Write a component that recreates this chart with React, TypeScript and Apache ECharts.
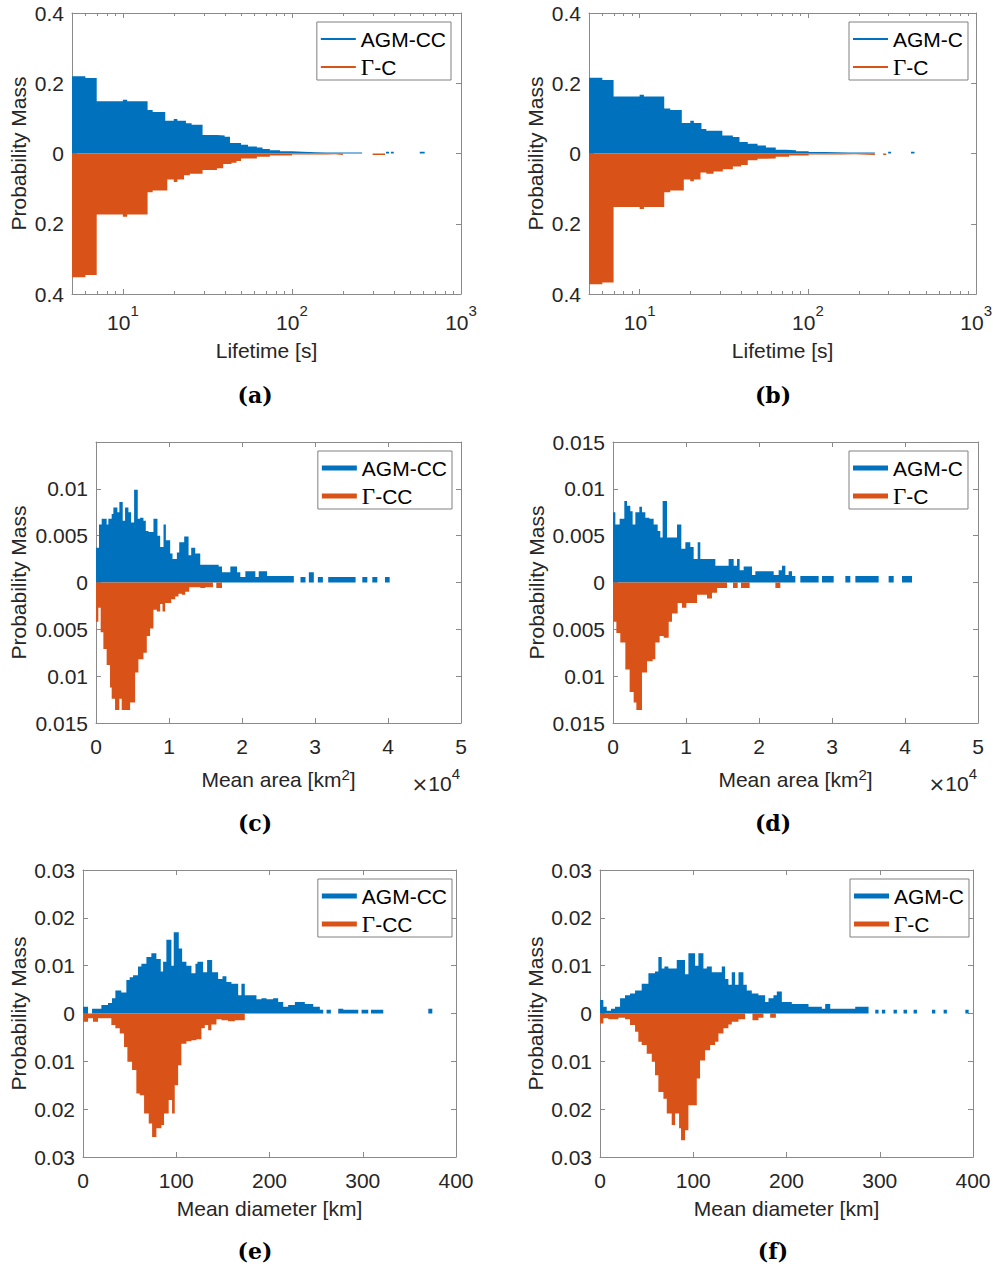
import React, { useEffect, useRef } from 'react';
import * as echarts from 'echarts';

// ---------------- data (bin left edges X, probability mass P from that edge to the next) ----------------
const lifetimeMinorTicks = [6, 7, 8, 9, 20, 30, 40, 50, 60, 70, 80, 90, 200, 300, 400, 500, 600, 700, 800, 900];

// (a) Lifetime, AGM-CC / Γ-C
const aAgmX = [5, 6, 7, 10, 10.6, 14, 15, 17.8, 20, 21, 23.6, 25.5, 29.6, 36, 40, 43, 50, 55, 62, 67, 74, 85, 100, 116, 140, 160, 200, 230, 260, 360, 375, 385, 400, 570, 610];
const aAgmP = [0.220, 0.215, 0.149, 0.153, 0.149, 0.124, 0.118, 0.093, 0.098, 0.093, 0.086, 0.082, 0.053, 0.051, 0.048, 0.030, 0.025, 0.020, 0.017, 0.013, 0.009, 0.0065, 0.0047, 0.0035, 0.003, 0.003, 0.0025, 0.003, 0, 0.005, 0, 0.005, 0, 0.005, 0];
const aGamX = [5, 6, 7, 10, 10.6, 14, 15, 18.3, 20, 21, 23, 24.9, 29.6, 36, 39.2, 43.9, 47, 50, 62, 74, 100, 160, 180, 200, 300, 356];
const aGamP = [0.352, 0.346, 0.174, 0.180, 0.174, 0.110, 0.105, 0.074, 0.081, 0.074, 0.062, 0.058, 0.047, 0.042, 0.030, 0.026, 0.021, 0.014, 0.009, 0.006, 0.003, 0.002, 0.004, 0, 0.004, 0];

// (b) Lifetime, AGM-C / Γ-C
const bAgmX = [5, 6, 7, 10, 10.6, 14, 15.2, 17.8, 20, 21, 23.3, 24.9, 31, 35.8, 39.2, 43.9, 50.2, 56.3, 64.4, 74, 85, 101, 127, 175, 250, 300, 312, 410, 430];
const bAgmP = [0.216, 0.209, 0.162, 0.167, 0.162, 0.128, 0.124, 0.087, 0.093, 0.087, 0.070, 0.065, 0.051, 0.047, 0.033, 0.028, 0.023, 0.017, 0.011, 0.009, 0.0065, 0.004, 0.003, 0.003, 0, 0.005, 0, 0.005, 0];
const bGamX = [5, 6, 7, 10, 10.6, 14, 15.2, 18.3, 20, 21, 23, 24.9, 27.5, 31.2, 35.8, 40.1, 43.9, 50.2, 56.3, 64.4, 77.3, 101, 159, 190, 250, 280, 292];
const bGamP = [0.372, 0.367, 0.152, 0.158, 0.152, 0.110, 0.105, 0.074, 0.079, 0.074, 0.054, 0.058, 0.051, 0.045, 0.037, 0.033, 0.019, 0.015, 0.014, 0.009, 0.006, 0.003, 0.002, 0.004, 0, 0.004, 0];

// (c) Mean area, AGM-CC / Γ-CC
const cAgmX = [0, 410, 780, 1460, 1690, 2150, 2380, 2930, 3200, 3660, 3980, 4440, 4810, 5220, 5720, 6040, 6500, 6820, 7190, 7870, 8420, 8790, 9250, 9570, 10160, 10480, 11080, 11400, 12080, 12680, 13040, 13590, 14280, 16800, 17260, 18400, 19320, 19770, 20460, 21830, 22290, 23430, 27100, 28010, 28700, 29160, 29840, 30390, 31080, 31810, 35560, 36480, 37170, 37850, 38540, 39590, 40230];
const cAgmP = [0.0037, 0.0062, 0.0068, 0.0062, 0.0068, 0.0073, 0.0080, 0.0075, 0.0086, 0.0066, 0.0080, 0.0075, 0.0064, 0.0099, 0.0068, 0.0069, 0.0066, 0.0055, 0.0054, 0.0068, 0.0050, 0.0038, 0.0062, 0.0045, 0.0031, 0.0025, 0.0032, 0.0043, 0.0049, 0.0029, 0.0037, 0.0031, 0.0019, 0.0017, 0.0011, 0.0017, 0.0011, 0.0006, 0.0012, 0.0006, 0.0012, 0.0007, 0, 0.0006, 0, 0.0011, 0, 0.0006, 0, 0.0006, 0, 0.0006, 0, 0.0006, 0, 0.0006, 0];
const cGamX = [0, 320, 640, 1010, 1460, 1920, 2150, 2610, 3200, 3520, 4670, 5360, 5810, 6500, 6960, 7410, 7870, 8330, 8790, 9110, 9470, 10300, 10850, 11300, 11760, 12220, 12770, 14280, 14970, 16020, 16480, 17260];
const cGamP = [0.0042, 0.0027, 0.0053, 0.0071, 0.0088, 0.0112, 0.0124, 0.0136, 0.0124, 0.0136, 0.0128, 0.0096, 0.0082, 0.0075, 0.0057, 0.0049, 0.0029, 0.0031, 0.0023, 0.0031, 0.0022, 0.0018, 0.0015, 0.0012, 0.0013, 0.0010, 0.0005, 0.0006, 0.0005, 0, 0.0006, 0];

// (d) Mean area, AGM-C / Γ-C
const dAgmX = [0, 320, 910, 1550, 1920, 2370, 2690, 3060, 3610, 3970, 4430, 4980, 5570, 6120, 6480, 6800, 7400, 8770, 9360, 9910, 10590, 11050, 11600, 11960, 14020, 15840, 16530, 16990, 17350, 17900, 19040, 19500, 22010, 22690, 23150, 23610, 24060, 24520, 24980, 25660, 28170, 28630, 30230, 31830, 32510, 33200, 36390, 37760, 38450, 39590, 40960];
const dAgmP = [0.0075, 0.0062, 0.0068, 0.0087, 0.0082, 0.0076, 0.0062, 0.0075, 0.0081, 0.0075, 0.0069, 0.0068, 0.0062, 0.0055, 0.0048, 0.0087, 0.0048, 0.0062, 0.0036, 0.0043, 0.0038, 0.0025, 0.0043, 0.0025, 0.0018, 0.0025, 0.0018, 0.0025, 0.0013, 0.0017, 0.0008, 0.0012, 0.0008, 0.0013, 0.0018, 0.0008, 0.0012, 0.0007, 0, 0.0007, 0, 0.0007, 0, 0.0007, 0, 0.0007, 0, 0.0007, 0, 0.0007, 0];
const dGamX = [0, 460, 1000, 1690, 2280, 2830, 3200, 3970, 4660, 5430, 5800, 6390, 6940, 7630, 8080, 8860, 9450, 10050, 11510, 12880, 13560, 14250, 15620, 16440, 17080, 17530, 18720, 22240, 22920];
const dGamP = [0.0042, 0.0054, 0.0064, 0.0093, 0.0117, 0.0128, 0.0136, 0.0096, 0.0084, 0.0082, 0.0064, 0.0057, 0.0059, 0.0042, 0.0033, 0.0022, 0.0027, 0.0022, 0.0013, 0.0017, 0.0011, 0.0006, 0, 0.0006, 0, 0.0006, 0, 0.0006, 0];

// (e) Mean diameter, AGM-CC / Γ-CC
const eAgmX = [0, 5.4, 9.7, 19.7, 26.8, 31.1, 34.7, 41.1, 46.5, 50.1, 53.7, 59.0, 62.6, 68.0, 73.3, 78.7, 83.4, 85.9, 89.4, 94.8, 97.3, 102.7, 106.3, 110.9, 116.3, 120.6, 122.7, 128.8, 133.1, 138.5, 144.9, 149.6, 153.8, 159.2, 166.4, 169.9, 173.5, 186.0, 191.4, 196.8, 203.9, 209.3, 214.7, 220.0, 227.2, 237.9, 246.9, 254.0, 257.6, 261.2, 265.8, 273.7, 279.1, 295.2, 298.7, 305.9, 308.8, 322.0, 370.3, 374.6];
const eAgmP = [0.0014, 0, 0.0010, 0.0018, 0.0022, 0.0032, 0.0048, 0.0044, 0.0070, 0.0076, 0.0080, 0.0098, 0.0104, 0.0118, 0.0126, 0.0114, 0.0088, 0.0108, 0.0154, 0.0100, 0.0170, 0.0136, 0.0108, 0.0100, 0.0084, 0.0104, 0.0108, 0.0086, 0.0112, 0.0086, 0.0072, 0.0078, 0.0066, 0.0062, 0.0038, 0.0062, 0.0038, 0.0030, 0.0032, 0.0030, 0.0032, 0.0024, 0.0014, 0.0018, 0.0024, 0.0020, 0.0014, 0.0008, 0, 0.0008, 0, 0.0010, 0.0008, 0, 0.0008, 0, 0.0008, 0, 0.0010, 0];
const eGamX = [0, 5.4, 10.7, 16.1, 30.4, 34.7, 39.4, 44.0, 47.6, 52.6, 57.2, 60.8, 65.5, 70.5, 74.1, 78.7, 84.1, 86.9, 91.9, 95.5, 98.4, 102.0, 105.5, 110.9, 116.3, 121.6, 127.0, 130.6, 134.2, 137.7, 143.1, 148.5, 155.6, 162.8, 173.5];
const eGamP = [0.0017, 0.0010, 0.0017, 0.0010, 0.0024, 0.0031, 0.0042, 0.0070, 0.0101, 0.0118, 0.0167, 0.0171, 0.0209, 0.0230, 0.0258, 0.0240, 0.0233, 0.0209, 0.0181, 0.0209, 0.0150, 0.0108, 0.0063, 0.0058, 0.0056, 0.0054, 0.0031, 0.0024, 0.0035, 0.0023, 0.0012, 0.0014, 0.0016, 0.0014, 0];

// (f) Mean diameter, AGM-C / Γ-C
const fAgmX = [0, 3.6, 7.2, 11.8, 16.1, 21.5, 26.8, 32.2, 37.6, 44.7, 51.9, 59.0, 62.6, 66.2, 69.1, 73.3, 82.3, 91.2, 94.8, 102.0, 105.5, 110.9, 114.5, 119.9, 130.6, 134.2, 137.7, 141.3, 144.9, 148.5, 153.8, 157.4, 162.8, 169.9, 177.1, 180.7, 186.0, 189.6, 195.0, 205.7, 223.6, 237.9, 241.5, 246.9, 273.7, 288.0, 295.2, 298.7, 302.3, 305.9, 314.8, 318.4, 325.5, 329.2, 336.3, 339.9, 356.0, 359.6, 368.5, 372.0, 391.8, 395.3];
const fAgmP = [0.0028, 0.0014, 0.0006, 0.0010, 0.0014, 0.0032, 0.0038, 0.0042, 0.0048, 0.0062, 0.0084, 0.0088, 0.0118, 0.0094, 0.0098, 0.0094, 0.0112, 0.0082, 0.0126, 0.0100, 0.0126, 0.0094, 0.0098, 0.0086, 0.0098, 0.0072, 0.0060, 0.0086, 0.0060, 0.0086, 0.0060, 0.0048, 0.0042, 0.0038, 0.0024, 0.0032, 0.0038, 0.0046, 0.0024, 0.0020, 0.0014, 0.0010, 0.0020, 0.0010, 0.0014, 0, 0.0008, 0, 0.0008, 0, 0.0008, 0, 0.0008, 0, 0.0008, 0, 0.0008, 0, 0.0008, 0, 0.0008, 0];
const fGamX = [0, 3.6, 8.9, 19.7, 26.8, 32.2, 37.6, 41.1, 44.7, 50.1, 55.5, 59.0, 62.6, 68.0, 71.6, 76.9, 80.5, 84.8, 86.9, 91.2, 94.8, 103.8, 107.3, 112.7, 118.1, 123.4, 127.0, 132.4, 137.7, 141.3, 148.5, 155.6, 163.5, 169.9, 175.3, 182.5, 188.6];
const fGamP = [0.0021, 0.0010, 0.0012, 0.0009, 0.0012, 0.0024, 0.0038, 0.0059, 0.0066, 0.0084, 0.0101, 0.0129, 0.0164, 0.0178, 0.0209, 0.0233, 0.0209, 0.0240, 0.0265, 0.0244, 0.0192, 0.0136, 0.0098, 0.0077, 0.0066, 0.0059, 0.0042, 0.0031, 0.0023, 0.0017, 0.0012, 0, 0.0014, 0.0009, 0, 0.0009, 0];

// ---------------- styling ----------------
const BLUE = '#0072BD';
const ORANGE = '#D95319';
const AXIS = '#8a8a8a';
const INK = '#262626';
const SANS = '"Liberation Sans", Arial, Helvetica, sans-serif';
const SERIF = '"Liberation Serif", "Times New Roman", serif';
const FS = 21;
const SUP = 15;

type Panel = {
  grid: { left: number; top: number; width: number; height: number };
  log: boolean;
  xMin: number;
  xMax: number;
  xInt: number;
  xDiv: number;
  xName: string;
  xNameGap: number;
  yLim: number;
  yInt: number;
  yNameGap: number;
  hideTopY: boolean;
  names: [string, string];
  agm: [number[], number[]];
  gam: [number[], number[]];
  legendRight: number;
  legendTop: number;
  thick: boolean;
  caption: string;
  capX: number;
  capY: number;
  sci: boolean;
};

const panels: Panel[] = [
  {
    grid: { left: 72, top: 13, width: 389, height: 281 }, log: true, xMin: 5, xMax: 1000, xInt: 0, xDiv: 1,
    xName: 'Lifetime [s]', xNameGap: 44, yLim: 0.4, yInt: 0.2, yNameGap: 42, hideTopY: false,
    names: ['AGM-CC', 'Γ-C'], agm: [aAgmX, aAgmP], gam: [aGamX, aGamP],
    legendRight: 544, legendTop: 22, thick: false, caption: '(a)', capX: 255, capY: 395, sci: false,
  },
  {
    grid: { left: 589, top: 13, width: 388, height: 281 }, log: true, xMin: 5, xMax: 1000, xInt: 0, xDiv: 1,
    xName: 'Lifetime [s]', xNameGap: 44, yLim: 0.4, yInt: 0.2, yNameGap: 41, hideTopY: false,
    names: ['AGM-C', 'Γ-C'], agm: [bAgmX, bAgmP], gam: [bGamX, bGamP],
    legendRight: 27, legendTop: 22, thick: false, caption: '(b)', capX: 773, capY: 395, sci: false,
  },
  {
    grid: { left: 96, top: 442, width: 365, height: 281 }, log: false, xMin: 0, xMax: 50000, xInt: 10000, xDiv: 10000,
    xName: 'Mean area [km{s|2}]', xNameGap: 44, yLim: 0.015, yInt: 0.005, yNameGap: 66, hideTopY: true,
    names: ['AGM-CC', 'Γ-CC'], agm: [cAgmX, cAgmP], gam: [cGamX, cGamP],
    legendRight: 543, legendTop: 451, thick: true, caption: '(c)', capX: 255, capY: 823, sci: true,
  },
  {
    grid: { left: 613, top: 442, width: 365, height: 281 }, log: false, xMin: 0, xMax: 50000, xInt: 10000, xDiv: 10000,
    xName: 'Mean area [km{s|2}]', xNameGap: 44, yLim: 0.015, yInt: 0.005, yNameGap: 65, hideTopY: false,
    names: ['AGM-C', 'Γ-C'], agm: [dAgmX, dAgmP], gam: [dGamX, dGamP],
    legendRight: 27, legendTop: 451, thick: true, caption: '(d)', capX: 773, capY: 823, sci: true,
  },
  {
    grid: { left: 83, top: 870, width: 373, height: 287 }, log: false, xMin: 0, xMax: 400, xInt: 100, xDiv: 1,
    xName: 'Mean diameter [km]', xNameGap: 39, yLim: 0.03, yInt: 0.01, yNameGap: 53, hideTopY: false,
    names: ['AGM-CC', 'Γ-CC'], agm: [eAgmX, eAgmP], gam: [eGamX, eGamP],
    legendRight: 543, legendTop: 879, thick: true, caption: '(e)', capX: 255, capY: 1251, sci: false,
  },
  {
    grid: { left: 600, top: 870, width: 373, height: 287 }, log: false, xMin: 0, xMax: 400, xInt: 100, xDiv: 1,
    xName: 'Mean diameter [km]', xNameGap: 39, yLim: 0.03, yInt: 0.01, yNameGap: 52, hideTopY: false,
    names: ['AGM-C', 'Γ-C'], agm: [fAgmX, fAgmP], gam: [fGamX, fGamP],
    legendRight: 26, legendTop: 879, thick: true, caption: '(f)', capX: 773, capY: 1251, sci: false,
  },
];

function stepData(xs: number[], ps: number[], sign: number): number[][] {
  return xs.map((x, i) => [x, sign * (ps[i] ?? 0)]);
}

function buildOption(): any {
  const grid: any[] = [];
  const xAxis: any[] = [];
  const yAxis: any[] = [];
  const series: any[] = [];
  const legend: any[] = [];
  const graphic: any[] = [];

  const tickCommon = { show: true, inside: true, length: 5, lineStyle: { color: AXIS, width: 1 } };
  const lineCommon = { show: true, onZero: false, lineStyle: { color: AXIS, width: 1 } };

  panels.forEach((p, i) => {
    grid.push({ ...p.grid, containLabel: false });

    const base: any = p.log
      ? { type: 'log', logBase: 10, min: p.xMin, max: p.xMax }
      : { type: 'value', min: p.xMin, max: p.xMax, interval: p.xInt };

    const xLabel: any = p.log
      ? {
          margin: 9,
          formatter: (v: number) => {
            const e = Math.log10(v);
            const r = Math.round(e);
            return Math.abs(e - r) < 1e-6 ? `{b|10}{s|${r}}` : '';
          },
          rich: {
            b: { fontSize: FS, fontFamily: SANS, color: INK, lineHeight: 30, verticalAlign: 'bottom' },
            s: { fontSize: SUP, fontFamily: SANS, color: INK, lineHeight: 17, verticalAlign: 'top' },
          },
        }
      : {
          margin: 11,
          fontSize: FS,
          fontFamily: SANS,
          color: INK,
          lineHeight: 24,
          formatter: (v: number) => String(Math.round(v / p.xDiv)),
        };

    xAxis.push({
      ...base,
      gridIndex: i,
      position: 'bottom',
      axisLine: lineCommon,
      axisTick: tickCommon,
      axisLabel: xLabel,
      splitLine: { show: false },
      name: p.xName,
      nameLocation: 'middle',
      nameGap: p.xNameGap,
      nameTextStyle: {
        fontSize: FS,
        fontFamily: SANS,
        color: INK,
        lineHeight: 24,
        rich: { s: { fontSize: SUP, fontFamily: SANS, color: INK, lineHeight: 15, verticalAlign: 'top' } },
      },
    });
    xAxis.push({
      ...base,
      gridIndex: i,
      position: 'top',
      axisLine: lineCommon,
      axisTick: tickCommon,
      axisLabel: { show: false },
      splitLine: { show: false },
    });

    const yBase: any = { type: 'value', min: -p.yLim, max: p.yLim, interval: p.yInt };
    yAxis.push({
      ...yBase,
      gridIndex: i,
      position: 'left',
      axisLine: lineCommon,
      axisTick: tickCommon,
      axisLabel: {
        margin: 8,
        fontSize: FS,
        fontFamily: SANS,
        color: INK,
        formatter: (v: number) => {
          if (p.hideTopY && v > p.yLim * 0.999) return '';
          const a = Math.abs(v);
          return a < 1e-9 ? '0' : String(parseFloat(a.toPrecision(4)));
        },
      },
      splitLine: { show: false },
      name: 'Probability Mass',
      nameLocation: 'middle',
      nameGap: p.yNameGap,
      nameTextStyle: { fontSize: FS, fontFamily: SANS, color: INK, lineHeight: 24 },
    });
    yAxis.push({
      ...yBase,
      gridIndex: i,
      position: 'right',
      axisLine: lineCommon,
      axisTick: tickCommon,
      axisLabel: { show: false },
      splitLine: { show: false },
    });

    const common = {
      type: 'line',
      xAxisIndex: 2 * i,
      yAxisIndex: 2 * i,
      step: 'end',
      symbol: 'none',
      showSymbol: false,
      silent: true,
      animation: false,
      emphasis: { disabled: true },
      clip: true,
    };
    series.push({
      ...common,
      name: p.names[0],
      color: BLUE,
      lineStyle: { width: 0, color: BLUE },
      areaStyle: { color: BLUE, opacity: 1 },
      data: stepData(p.agm[0], p.agm[1], 1),
    });
    series.push({
      ...common,
      name: p.names[1],
      color: ORANGE,
      lineStyle: { width: 0, color: ORANGE },
      areaStyle: { color: ORANGE, opacity: 1 },
      data: stepData(p.gam[0], p.gam[1], -1),
    });

    if (p.log) {
      series.push({
        type: 'custom',
        xAxisIndex: 2 * i,
        yAxisIndex: 2 * i,
        silent: true,
        clip: false,
        z: 5,
        data: lifetimeMinorTicks.map((v) => [v, 0]),
        renderItem: (params: any, api: any) => {
          const cs = params.coordSys;
          const x = Math.round(api.coord([api.value(0), 0])[0]) + 0.5;
          const yb = cs.y + cs.height;
          const yt = cs.y;
          return {
            type: 'group',
            children: [
              { type: 'line', shape: { x1: x, y1: yb, x2: x, y2: yb - 3 }, style: { stroke: AXIS, lineWidth: 1 } },
              { type: 'line', shape: { x1: x, y1: yt, x2: x, y2: yt + 3 }, style: { stroke: AXIS, lineWidth: 1 } },
            ],
          };
        },
      });
    }

    legend.push({
      orient: 'vertical',
      right: p.legendRight,
      top: p.legendTop,
      padding: [5, 5, 1, 4],
      itemGap: 4,
      itemWidth: 35,
      itemHeight: p.thick ? 5 : 2,
      icon: 'rect',
      borderColor: '#808080',
      borderWidth: 1,
      borderRadius: 0,
      backgroundColor: '#ffffff',
      selectedMode: false,
      data: [
        { name: p.names[0], icon: 'rect', itemStyle: { color: BLUE, borderWidth: 0 } },
        { name: p.names[1], icon: 'rect', itemStyle: { color: ORANGE, borderWidth: 0 } },
      ],
      formatter: (name: string) =>
        name.startsWith('Γ') ? `{g|Γ}{n|${name.slice(1)}}` : `{n|${name}}`,
      textStyle: {
        color: '#000',
        fontSize: FS,
        fontFamily: SANS,
        lineHeight: 24,
        rich: {
          g: { fontFamily: SERIF, fontSize: 23, color: '#000', lineHeight: 24 },
          n: { fontFamily: SANS, fontSize: FS, color: '#000', lineHeight: 24 },
        },
      },
    });

    graphic.push({
      type: 'text',
      x: p.capX,
      y: p.capY,
      style: {
        text: p.caption,
        font: 'bold 22px "DejaVu Serif", serif',
        fill: '#000',
        align: 'center',
        verticalAlign: 'middle',
        textAlign: 'center',
        textVerticalAlign: 'middle',
      },
    });

    if (p.sci) {
      graphic.push({
        type: 'text',
        x: p.grid.left + p.grid.width - 1,
        y: 780,
        style: {
          text: '{x|×}{b|10}{s|4}',
          align: 'right',
          verticalAlign: 'middle',
          textAlign: 'right',
          textVerticalAlign: 'middle',
          rich: {
            x: { fontSize: 20, fontFamily: '"DejaVu Sans", sans-serif', fill: INK, lineHeight: 28, verticalAlign: 'bottom' },
            b: { fontSize: FS, fontFamily: SANS, fill: INK, lineHeight: 28, verticalAlign: 'bottom' },
            s: { fontSize: SUP, fontFamily: SANS, fill: INK, lineHeight: 17, verticalAlign: 'top' },
          },
        },
      });
    }
  });

  return {
    animation: false,
    backgroundColor: '#ffffff',
    grid,
    xAxis,
    yAxis,
    series,
    legend,
    graphic,
  };
}

export default function App() {
  const ref = useRef<HTMLDivElement>(null);
  useEffect(() => {
    document.body.style.margin = '0';
    const chart = echarts.init(ref.current as HTMLDivElement, undefined, { renderer: 'svg' });
    chart.setOption(buildOption());
    return () => {
      chart.dispose();
    };
  }, []);
  return <div ref={ref} style={{ width: 995, height: 1268 }} />;
}
